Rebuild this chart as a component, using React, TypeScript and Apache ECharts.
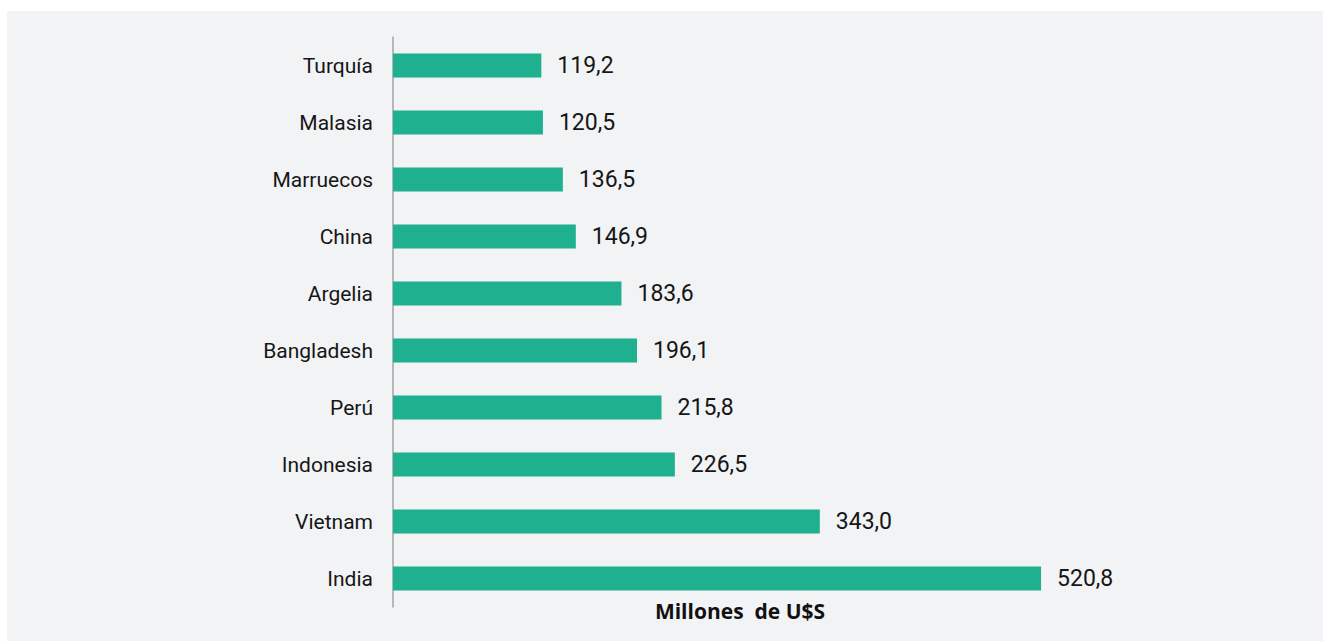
import React, { useEffect, useRef } from "react";
import * as echarts from "echarts";

const categories = ["India", "Vietnam", "Indonesia", "Perú", "Bangladesh", "Argelia", "China", "Marruecos", "Malasia", "Turquía"];
const values = [520.8, 343.0, 226.5, 215.8, 196.1, 183.6, 146.9, 136.5, 120.5, 119.2];
const axisTitle = "Millones  de U$S";

export default function App() {
  const ref = useRef<HTMLDivElement>(null);
  useEffect(() => {
    document.body.style.margin = "0";
    const chart = echarts.init(ref.current!, null, { renderer: "svg" });
    chart.setOption({
      animation: false,
      backgroundColor: "#f2f3f5",
      grid: { left: 386, top: 26, width: 746.6, height: 570, containLabel: false },
      xAxis: {
        type: "value",
        min: 0,
        max: 600,
        show: false,
      },
      yAxis: {
        type: "category",
        data: categories,
        axisLine: { show: true, lineStyle: { color: "#a3a3a3", width: 1.5 } },
        axisTick: { show: false },
        axisLabel: { margin: 20, fontFamily: "Roboto", fontSize: 21, color: "#161616" },
      },
      series: [
        {
          type: "bar",
          data: values,
          barWidth: 24,
          itemStyle: { color: "#1fb08f" },
          label: {
            show: true,
            position: "right",
            distance: 16,
            fontFamily: "Roboto",
            fontSize: 23,
            color: "#161616",
            formatter: (p: any) => Number(p.value).toFixed(1).replace(".", ","),
          },
        },
      ],
      graphic: [
        {
          type: "text",
          x: 733,
          y: 600,
          style: {
            text: axisTitle,
            fontFamily: "Open Sans",
            fontWeight: "bold",
            fontSize: 21,
            fill: "#111",
            textAlign: "center",
            textVerticalAlign: "middle",
          },
        },
      ],
    });
    return () => chart.dispose();
  }, []);
  return (
    <div
      ref={ref}
      style={{ position: "fixed", left: 7, top: 11, width: 1316, height: 630 }}
    />
  );
}
